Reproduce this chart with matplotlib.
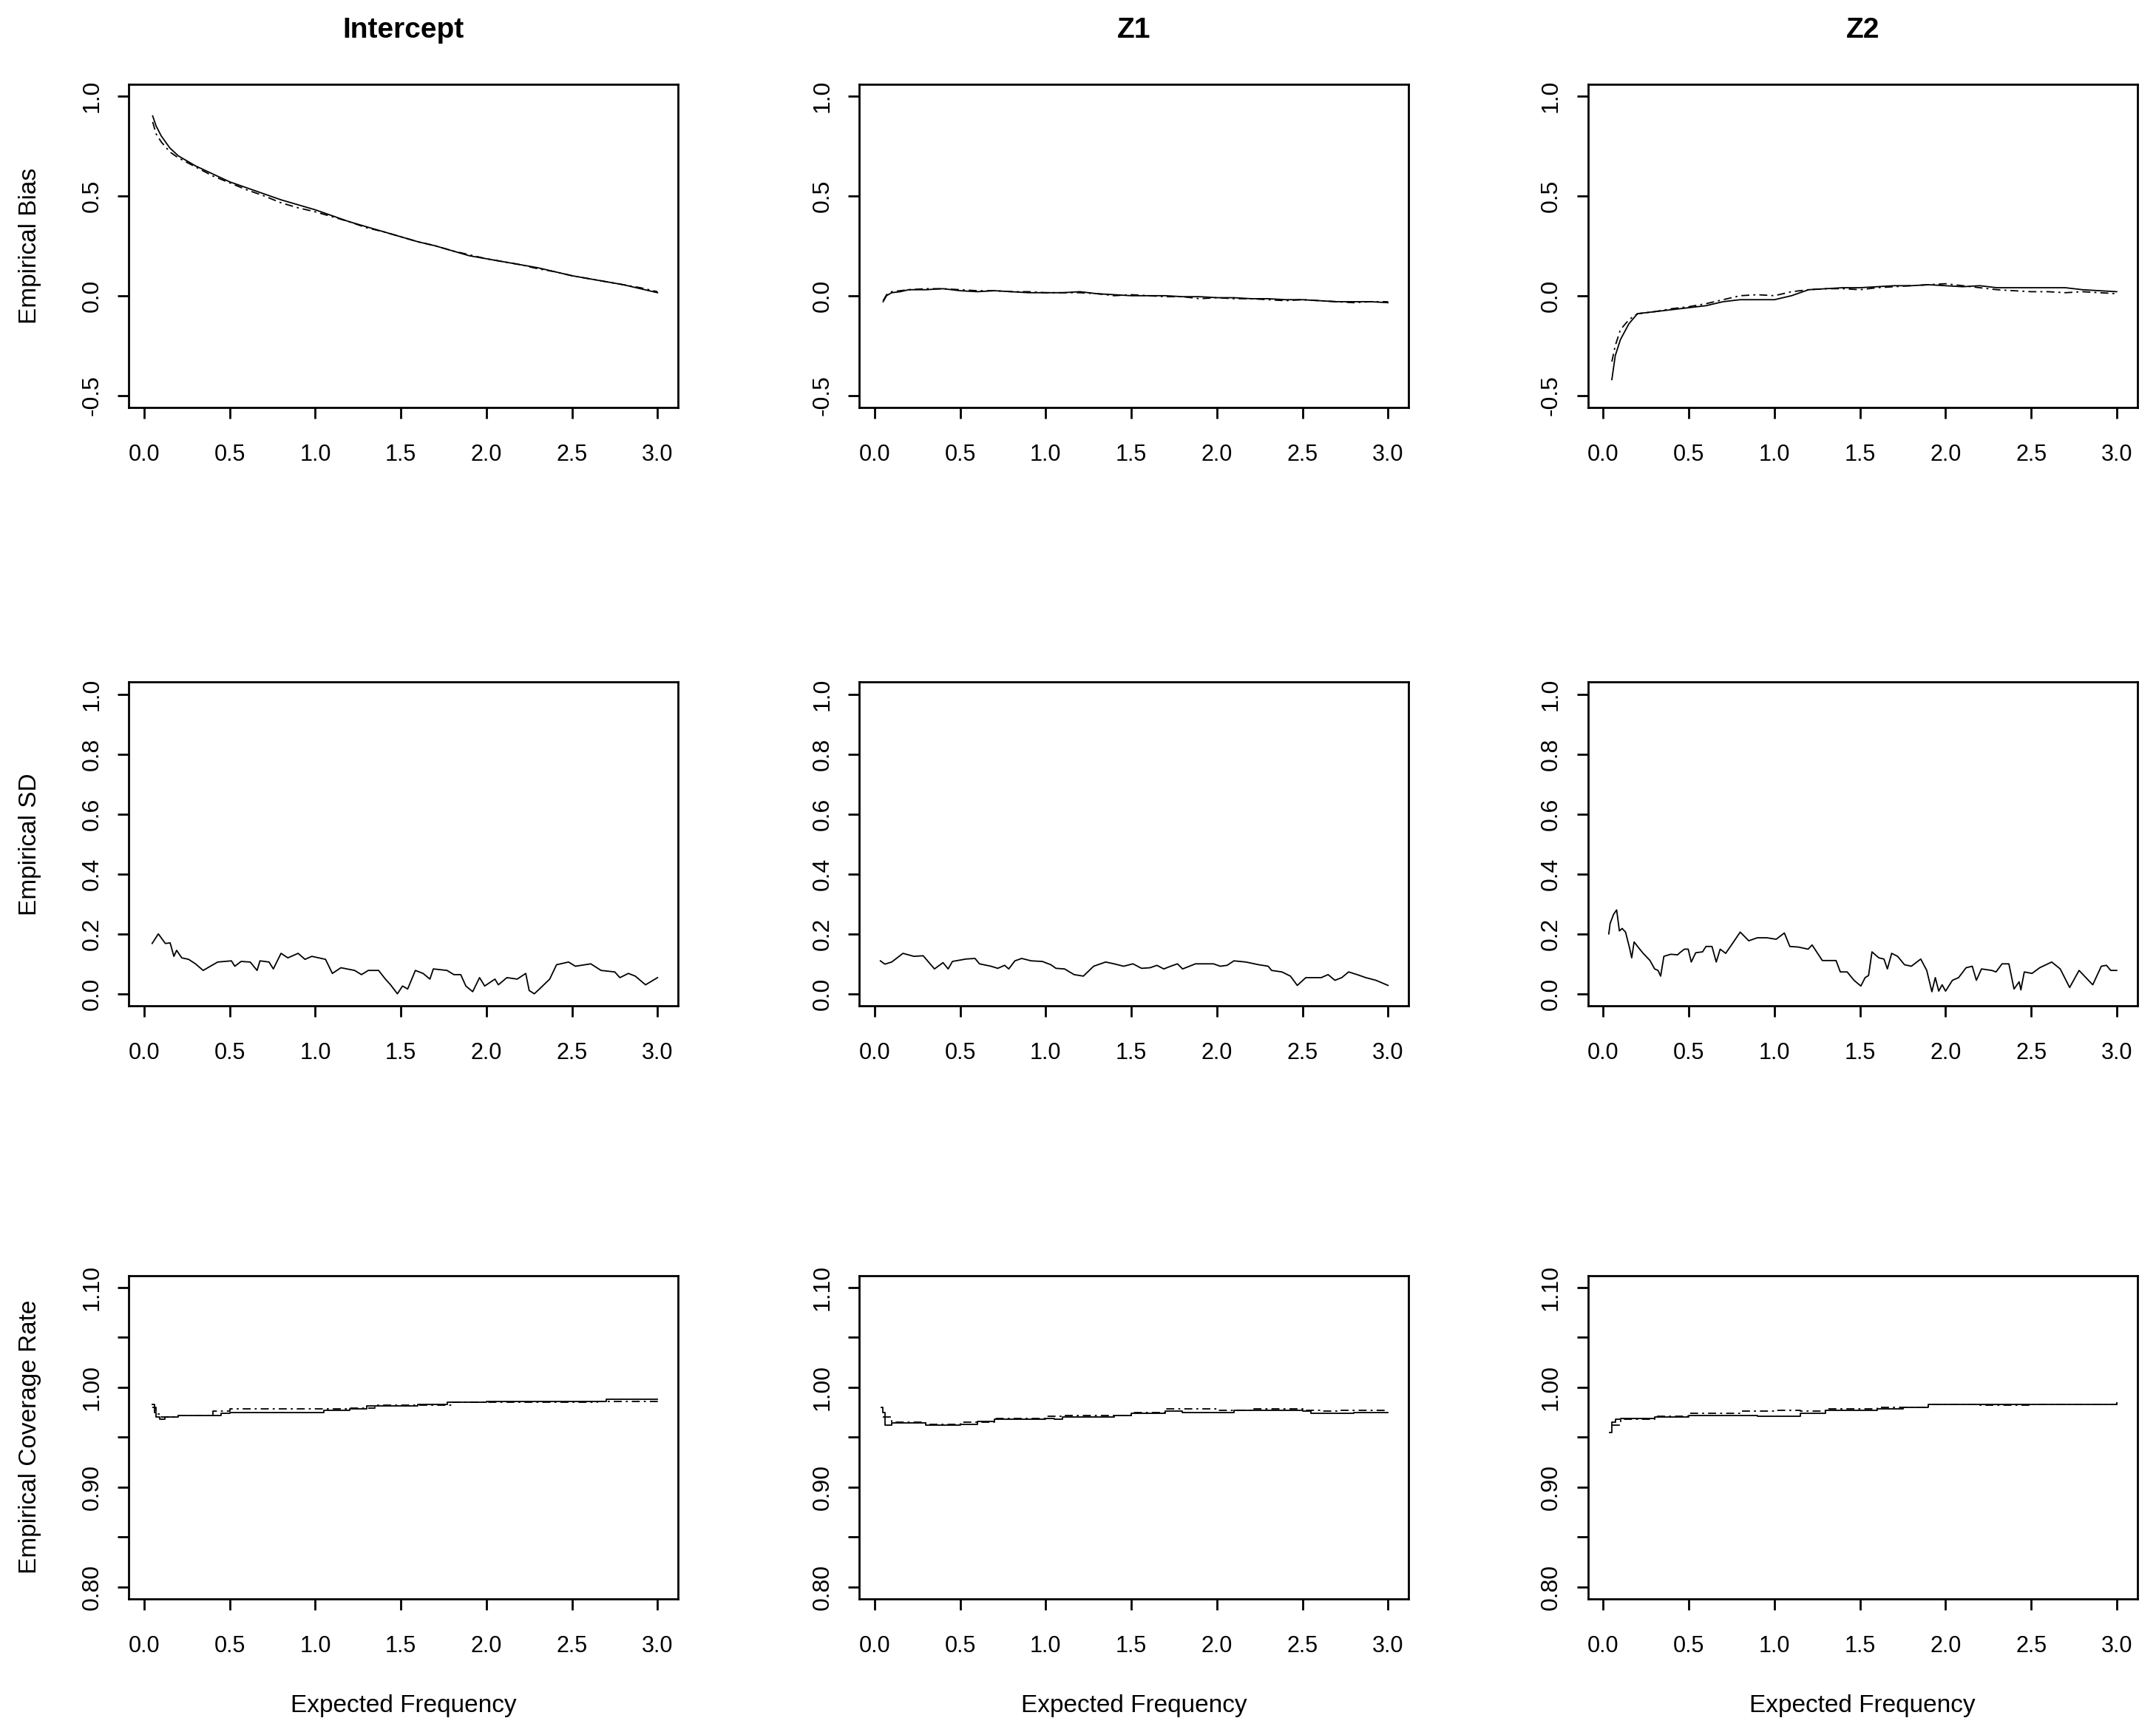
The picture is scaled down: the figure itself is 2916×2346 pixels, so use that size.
"""
Simulation summary: empirical bias / SD / coverage rate vs expected frequency
"""
import matplotlib
matplotlib.use("Agg")
import matplotlib.pyplot as plt

# ── labels
col_titles = ["Intercept", "Z1", "Z2"]
row_labels = ["Empirical Bias", "Empirical SD", "Empirical Coverage Rate"]
x_label = "Expected Frequency"
x_ticks = [0.0, 0.5, 1.0, 1.5, 2.0, 2.5, 3.0]
x_ticklabels = ["0.0", "0.5", "1.0", "1.5", "2.0", "2.5", "3.0"]
bias_ticks = [-0.5, 0.0, 0.5, 1.0]
bias_ticklabels = ["-0.5", "0.0", "0.5", "1.0"]
sd_ticks = [0.0, 0.2, 0.4, 0.6, 0.8, 1.0]
sd_ticklabels = ["0.0", "0.2", "0.4", "0.6", "0.8", "1.0"]
cov_ticks = [0.80, 0.85, 0.90, 0.95, 1.00, 1.05, 1.10]
cov_ticklabels = ["0.80", "", "0.90", "", "1.00", "", "1.10"]

# ── bias (solid / dot-dash)
bias_x = [0.05, 0.07, 0.1, 0.15, 0.2, 0.3, 0.4, 0.5, 0.6, 0.7, 0.8, 0.9, 1.0,
          1.1, 1.2, 1.3, 1.4, 1.5, 1.6, 1.7, 1.8, 1.9, 2.0, 2.1, 2.2, 2.3,
          2.4, 2.5, 2.6, 2.7, 2.8, 2.9, 3.0]
bias_int_a = [0.90, 0.85, 0.80, 0.74, 0.70, 0.65, 0.61, 0.57, 0.54, 0.51, 0.48,
              0.455, 0.43, 0.40, 0.37, 0.345, 0.32, 0.295, 0.27, 0.25, 0.225,
              0.20, 0.185, 0.17, 0.155, 0.14, 0.12, 0.10, 0.085, 0.07, 0.055,
              0.035, 0.015]
bias_int_b = [0.87, 0.81, 0.77, 0.72, 0.69, 0.645, 0.60, 0.565, 0.53, 0.50,
              0.465, 0.44, 0.42, 0.395, 0.37, 0.34, 0.32, 0.295, 0.27, 0.25,
              0.225, 0.205, 0.185, 0.17, 0.155, 0.135, 0.12, 0.10, 0.085, 0.07,
              0.055, 0.04, 0.02]
bias_z1_a = [-0.03, 0.0, 0.015, 0.02, 0.03, 0.03, 0.035, 0.025, 0.02, 0.025,
             0.02, 0.015, 0.015, 0.015, 0.02, 0.01, 0.005, 0.0, 0.0, 0.0,
             -0.005, -0.005, -0.01, -0.01, -0.015, -0.015, -0.02, -0.02,
             -0.025, -0.03, -0.03, -0.03, -0.035]
bias_z1_b = [-0.025, 0.005, 0.02, 0.025, 0.03, 0.035, 0.035, 0.03, 0.025,
             0.025, 0.02, 0.02, 0.015, 0.015, 0.015, 0.01, 0.0, 0.005, 0.0,
             -0.005, -0.005, -0.015, -0.01, -0.015, -0.015, -0.02, -0.025,
             -0.02, -0.025, -0.03, -0.035, -0.03, -0.03]
bias_z2_a = [-0.42, -0.30, -0.22, -0.14, -0.09, -0.08, -0.07, -0.06, -0.05,
             -0.03, -0.02, -0.02, -0.02, 0.0, 0.03, 0.035, 0.04, 0.04, 0.045,
             0.05, 0.05, 0.055, 0.05, 0.045, 0.05, 0.04, 0.04, 0.04, 0.04,
             0.04, 0.03, 0.025, 0.02]
bias_z2_b = [-0.33, -0.25, -0.17, -0.12, -0.09, -0.08, -0.065, -0.055, -0.04,
             -0.02, 0.0, 0.005, 0.0, 0.02, 0.03, 0.035, 0.035, 0.03, 0.04,
             0.045, 0.05, 0.055, 0.06, 0.05, 0.04, 0.03, 0.025, 0.02, 0.02,
             0.015, 0.02, 0.015, 0.01]

# ── empirical SD
sd_int_x = [0.047, 0.083, 0.124, 0.152, 0.174, 0.19, 0.22, 0.26, 0.30, 0.345,
            0.387, 0.43, 0.51, 0.53, 0.567, 0.62, 0.66, 0.677, 0.73, 0.755,
            0.80, 0.84, 0.90, 0.94, 0.98, 1.06, 1.10, 1.15, 1.23, 1.27, 1.31,
            1.37, 1.41, 1.44, 1.48, 1.51, 1.54, 1.585, 1.63, 1.67, 1.69, 1.77,
            1.81, 1.85, 1.88, 1.92, 1.96, 1.99, 2.05, 2.07, 2.12, 2.18, 2.23,
            2.25, 2.28, 2.31, 2.37, 2.41, 2.48, 2.52, 2.61, 2.67, 2.75, 2.78,
            2.83, 2.87, 2.93, 3.0]
sd_int = [0.168, 0.20, 0.168, 0.17, 0.125, 0.145, 0.12, 0.115, 0.10, 0.078,
          0.092, 0.106, 0.11, 0.092, 0.108, 0.106, 0.078, 0.11, 0.106, 0.083,
          0.135, 0.12, 0.135, 0.115, 0.125, 0.115, 0.068, 0.087, 0.078, 0.064,
          0.078, 0.078, 0.049, 0.03, 0.0, 0.026, 0.016, 0.078, 0.068, 0.049,
          0.083, 0.078, 0.064, 0.064, 0.026, 0.007, 0.054, 0.026, 0.049, 0.03,
          0.054, 0.049, 0.068, 0.011, 0.0, 0.016, 0.049, 0.097, 0.106, 0.092,
          0.10, 0.078, 0.073, 0.054, 0.068, 0.059, 0.03, 0.054]
sd_z1_x = [0.034, 0.06, 0.10, 0.166, 0.23, 0.284, 0.35, 0.40, 0.43, 0.455,
           0.534, 0.587, 0.613, 0.68, 0.72, 0.76, 0.784, 0.82, 0.86, 0.915,
           0.98, 1.03, 1.06, 1.11, 1.166, 1.22, 1.28, 1.35, 1.40, 1.455, 1.51,
           1.56, 1.61, 1.65, 1.69, 1.73, 1.77, 1.80, 1.875, 1.98, 2.02, 2.06,
           2.10, 2.17, 2.245, 2.30, 2.32, 2.38, 2.43, 2.47, 2.52, 2.61, 2.65,
           2.69, 2.73, 2.77, 2.82, 2.87, 2.93, 3.0]
sd_z1 = [0.11, 0.099, 0.106, 0.135, 0.125, 0.127, 0.083, 0.104, 0.083, 0.108,
         0.116, 0.118, 0.10, 0.092, 0.085, 0.095, 0.083, 0.11, 0.118, 0.11,
         0.108, 0.097, 0.085, 0.083, 0.064, 0.059, 0.092, 0.106, 0.10, 0.092,
         0.10, 0.085, 0.087, 0.095, 0.083, 0.092, 0.10, 0.083, 0.10, 0.10,
         0.092, 0.095, 0.11, 0.106, 0.097, 0.092, 0.078, 0.073, 0.059, 0.028,
         0.054, 0.054, 0.064, 0.045, 0.054, 0.073, 0.064, 0.054, 0.045, 0.028]
sd_z2_x = [0.032, 0.04, 0.06, 0.078, 0.094, 0.11, 0.13, 0.153, 0.166, 0.18,
           0.206, 0.233, 0.273, 0.30, 0.32, 0.335, 0.354, 0.394, 0.434, 0.447,
           0.474, 0.496, 0.514, 0.54, 0.58, 0.60, 0.635, 0.66, 0.683, 0.715,
           0.755, 0.80, 0.85, 0.90, 0.956, 1.01, 1.058, 1.09, 1.14, 1.197,
           1.22, 1.28, 1.36, 1.385, 1.425, 1.465, 1.505, 1.53, 1.55, 1.57,
           1.61, 1.64, 1.66, 1.685, 1.72, 1.76, 1.80, 1.855, 1.89, 1.92, 1.94,
           1.96, 1.98, 2.0, 2.04, 2.076, 2.12, 2.156, 2.18, 2.21, 2.27, 2.295,
           2.33, 2.37, 2.40, 2.43, 2.44, 2.46, 2.505, 2.55, 2.62, 2.67, 2.725,
           2.78, 2.82, 2.86, 2.91, 2.94, 2.965, 3.0]
sd_z2 = [0.20, 0.235, 0.265, 0.28, 0.21, 0.218, 0.206, 0.154, 0.12, 0.173,
         0.154, 0.135, 0.111, 0.083, 0.078, 0.059, 0.125, 0.132, 0.13, 0.137,
         0.149, 0.149, 0.106, 0.137, 0.14, 0.158, 0.158, 0.106, 0.149, 0.135,
         0.168, 0.206, 0.177, 0.187, 0.187, 0.182, 0.203, 0.158, 0.156, 0.149,
         0.163, 0.111, 0.111, 0.073, 0.073, 0.045, 0.026, 0.054, 0.061, 0.14,
         0.12, 0.116, 0.083, 0.135, 0.125, 0.097, 0.092, 0.116, 0.078, 0.007,
         0.054, 0.009, 0.03, 0.009, 0.045, 0.054, 0.087, 0.092, 0.045, 0.083,
         0.078, 0.073, 0.10, 0.10, 0.016, 0.04, 0.013, 0.073, 0.068, 0.087,
         0.106, 0.083, 0.021, 0.078, 0.054, 0.03, 0.092, 0.095, 0.078, 0.078]

# ── coverage rate (solid / dot-dash, step-like)
cov_int_a_x = [0.047, 0.06, 0.07, 0.09, 0.12, 0.2, 0.45, 0.5, 1.0, 1.05, 1.2,
               1.3, 1.6, 1.77, 2.0, 2.65, 2.7, 3.0]
cov_int_a = [0.983, 0.975, 0.970, 0.968, 0.970, 0.972, 0.974, 0.975, 0.975,
             0.977, 0.978, 0.981, 0.983, 0.985, 0.986, 0.986, 0.988, 0.988]
cov_int_b_x = [0.05, 0.07, 0.1, 0.2, 0.4, 0.5, 1.0, 1.2, 1.35, 1.7, 1.8, 2.65,
               3.0]
cov_int_b = [0.980, 0.973, 0.970, 0.972, 0.976, 0.978, 0.978, 0.979, 0.982,
             0.982, 0.985, 0.986, 0.988]
cov_z1_a_x = [0.04, 0.05, 0.06, 0.1, 0.3, 0.5, 0.6, 0.7, 1.0, 1.05, 1.1, 1.4,
              1.5, 1.7, 1.8, 2.0, 2.1, 2.5, 2.55, 2.7, 2.8, 3.0]
cov_z1_a = [0.980, 0.975, 0.962, 0.964, 0.962, 0.963, 0.966, 0.968, 0.969,
            0.968, 0.970, 0.972, 0.974, 0.976, 0.975, 0.975, 0.977, 0.976,
            0.974, 0.974, 0.975, 0.975]
cov_z1_b_x = [0.05, 0.1, 0.3, 0.5, 0.7, 1.0, 1.1, 1.5, 1.7, 2.0, 2.2, 2.5,
              2.6, 2.7, 3.0]
cov_z1_b = [0.970, 0.965, 0.963, 0.965, 0.969, 0.971, 0.972, 0.975, 0.978,
            0.977, 0.978, 0.977, 0.976, 0.977, 0.977]
cov_z2_a_x = [0.035, 0.05, 0.07, 0.1, 0.3, 0.5, 0.9, 1.1, 1.15, 1.3, 1.6,
              1.75, 1.9, 2.2, 2.5, 3.0]
cov_z2_a = [0.955, 0.965, 0.968, 0.969, 0.970, 0.972, 0.971, 0.971, 0.974,
            0.977, 0.978, 0.980, 0.983, 0.983, 0.983, 0.984]
cov_z2_b_x = [0.05, 0.1, 0.3, 0.5, 0.8, 1.0, 1.15, 1.3, 1.6, 1.9, 2.2, 2.5,
              3.0]
cov_z2_b = [0.962, 0.968, 0.971, 0.974, 0.976, 0.977, 0.976, 0.978, 0.980,
            0.983, 0.982, 0.983, 0.985]

NARROW = ["Liberation Sans Narrow", "Liberation Sans", "DejaVu Sans"]
WIDE = ["Liberation Sans", "DejaVu Sans"]
DOTDASH = (0, (6, 3, 1.5, 3))

# panel grid in figure fractions (rows top→bottom, cols left→right)
LEFTS = [0.0597, 0.3985, 0.7365]
WIDTH = 0.2548
BOTTOMS = [0.7651, 0.4203, 0.0784]
HEIGHT = 0.1865


def style_axes(ax, yticks, yticklabels, ylim):
    ax.set_xlim(-0.09, 3.12)
    ax.set_ylim(*ylim)
    ax.set_xticks(x_ticks)
    ax.set_xticklabels(x_ticklabels, family=NARROW, fontsize=22)
    ax.set_yticks(yticks)
    ax.set_yticklabels(yticklabels, family=WIDE, fontsize=23,
                       rotation=90, va="center")
    ax.tick_params(axis="x", direction="out", length=11, width=2, pad=24)
    ax.tick_params(axis="y", direction="out", length=11, width=2, pad=14)
    for sp in ax.spines.values():
        sp.set_linewidth(2)


def main():
    fig = plt.figure(figsize=(29.16, 23.46), dpi=100)

    bias = [(bias_int_a, bias_int_b), (bias_z1_a, bias_z1_b),
            (bias_z2_a, bias_z2_b)]
    sds = [(sd_int_x, sd_int), (sd_z1_x, sd_z1), (sd_z2_x, sd_z2)]
    covs = [(cov_int_a_x, cov_int_a, cov_int_b_x, cov_int_b),
            (cov_z1_a_x, cov_z1_a, cov_z1_b_x, cov_z1_b),
            (cov_z2_a_x, cov_z2_a, cov_z2_b_x, cov_z2_b)]

    for j in range(3):
        # ── bias
        ax = fig.add_axes([LEFTS[j], BOTTOMS[0], WIDTH, HEIGHT])
        a, b = bias[j]
        ax.plot(bias_x, a, color="black", lw=1.3)
        ax.plot(bias_x, b, color="black", lw=1.3, ls=DOTDASH)
        style_axes(ax, bias_ticks, bias_ticklabels, (-0.56, 1.06))

        # ── SD
        ax = fig.add_axes([LEFTS[j], BOTTOMS[1], WIDTH, HEIGHT])
        sx, sy = sds[j]
        ax.plot(sx, sy, color="black", lw=1.3)
        style_axes(ax, sd_ticks, sd_ticklabels, (-0.04, 1.04))

        # ── coverage
        ax = fig.add_axes([LEFTS[j], BOTTOMS[2], WIDTH, HEIGHT])
        ax_, ay, bx, by = covs[j]
        ax.plot(ax_, ay, color="black", lw=1.3, drawstyle="steps-post")
        ax.plot(bx, by, color="black", lw=1.3, ls=DOTDASH,
                drawstyle="steps-post")
        style_axes(ax, cov_ticks, cov_ticklabels, (0.788, 1.112))

        cx = LEFTS[j] + WIDTH / 2
        fig.text(cx, 0.9825, col_titles[j], ha="center", va="center",
                 family=NARROW, fontsize=28, fontweight="bold")
        fig.text(cx, 1 - 2307 / 2346, x_label, ha="center", va="center",
                 family=NARROW, fontsize=24)

    for i in range(3):
        cy = BOTTOMS[i] + HEIGHT / 2
        fig.text(41 / 2916, cy, row_labels[i], rotation=90, ha="center",
                 va="center", family=WIDE, fontsize=24)

    fig.savefig("out.png", dpi=100, facecolor="white")


if __name__ == "__main__":
    main()
